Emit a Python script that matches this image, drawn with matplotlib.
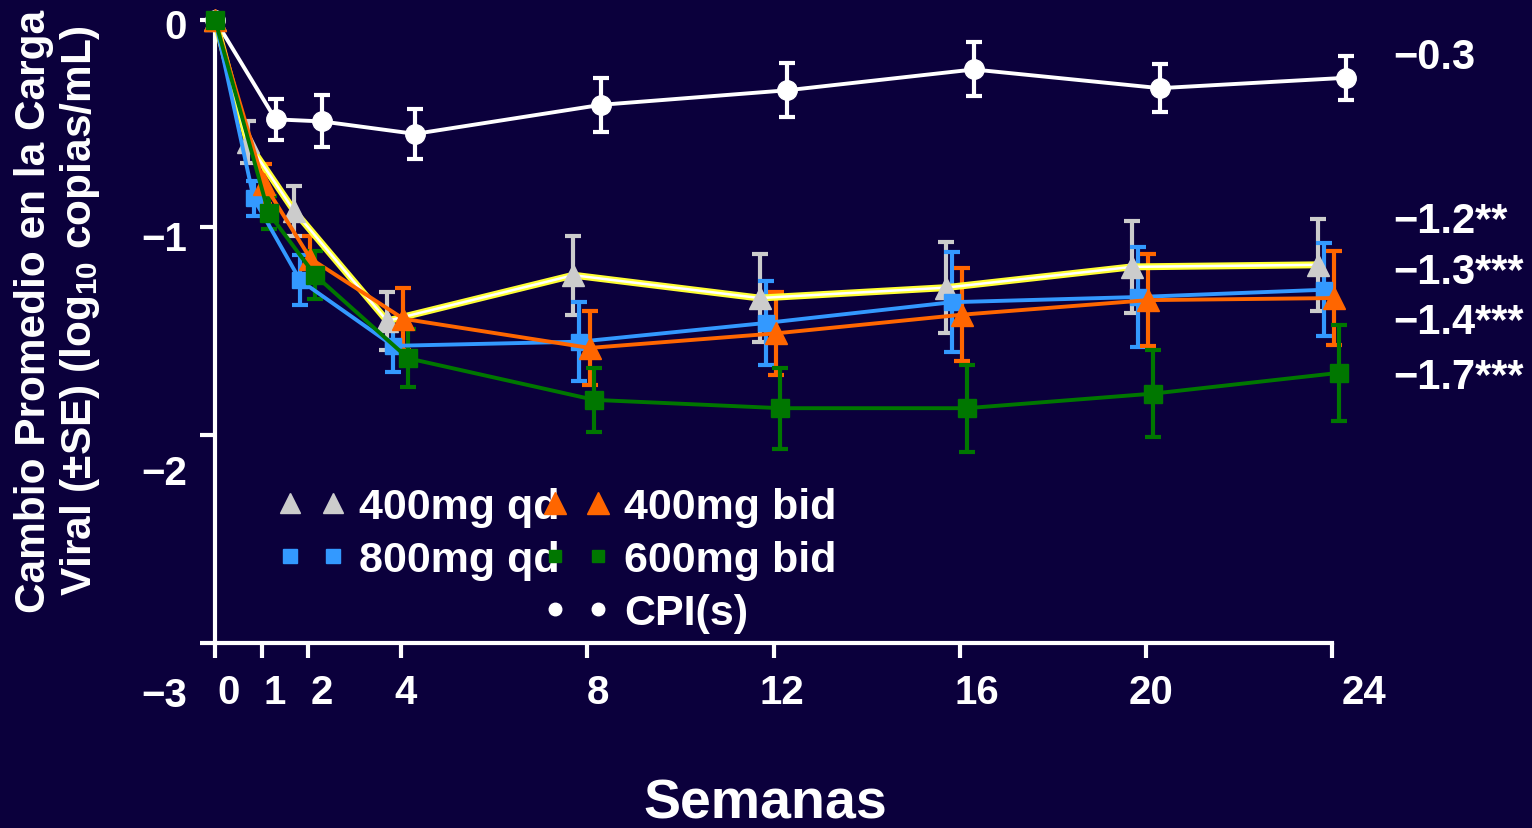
import matplotlib
matplotlib.use("Agg")
import matplotlib.pyplot as plt
from matplotlib.lines import Line2D

plt.rcParams['font.family'] = ['Liberation Sans', 'DejaVu Sans']
plt.rcParams['font.weight'] = 'bold'
plt.rcParams['mathtext.fontset'] = 'custom'
plt.rcParams['mathtext.rm'] = 'Liberation Sans:bold'
plt.rcParams['mathtext.it'] = 'Liberation Sans:bold'
plt.rcParams['mathtext.bf'] = 'Liberation Sans:bold'

# datos (semanas y cambio medio de carga viral)
weeks = [0, 1, 2, 4, 8, 12, 16, 20, 24]

qd400 = [0, -0.59, -0.92, -1.45, -1.23, -1.34, -1.29, -1.19, -1.18]
qd400_se = [0, 0.10, 0.12, 0.14, 0.19, 0.21, 0.22, 0.22, 0.22]

qd800 = [0, -0.86, -1.255, -1.57, -1.55, -1.46, -1.36, -1.335, -1.30]
qd800_se = [0, 0.085, 0.12, 0.125, 0.19, 0.20, 0.24, 0.24, 0.225]

bid400 = [0, -0.79, -1.15, -1.44, -1.58, -1.51, -1.42, -1.35, -1.34]
bid400_se = [0, 0.095, 0.11, 0.15, 0.18, 0.20, 0.225, 0.22, 0.225]

bid600 = [0, -0.93, -1.23, -1.63, -1.83, -1.87, -1.87, -1.80, -1.70]
bid600_se = [0, 0.08, 0.115, 0.14, 0.155, 0.195, 0.21, 0.21, 0.23]

cpi = [0, -0.48, -0.49, -0.55, -0.41, -0.34, -0.24, -0.33, -0.28]
cpi_se = [0, 0.10, 0.125, 0.12, 0.13, 0.13, 0.13, 0.115, 0.107]

final_labels = ['\u22120.3', '\u22121.2**', '\u22121.3***', '\u22121.4***', '\u22121.7***']
final_label_y = [-0.18, -0.968, -1.213, -1.453, -1.718]

xtick_labels = ['0', '1', '2', '4', '8', '12', '16', '20', '24']
xtick_shift = [0.29, 0.29, 0.3, 0.1, 0.22, 0.18, 0.37, 0.11, 0.69]
yticks = [0, -1, -2, -3]
ytick_labels = ['0', '\u22121', '\u22122', '\u22123']
ytick_label_y = [-0.036, -1.055, -2.18, -3.25]

bg = '#0b003c'
W, H = 1532, 829

fig = plt.figure(figsize=(W / 100, H / 100), dpi=100, facecolor=bg)
ax = fig.add_axes([215 / W, 1 - 644 / H, (1332 - 215) / W, (644 - 20.6) / H])
ax.set_facecolor(bg)


def shifted(off):
    return [w + off if w > 0 else w for w in weeks]


def serie(y, se, off, color, marker, ms, z=3):
    ax.errorbar(shifted(off), y, yerr=se, fmt='none', ecolor=color, elinewidth=3,
                capsize=5.5, capthick=3, clip_on=False, zorder=z)
    ax.plot(shifted(off), y, color=color, lw=2.8, marker=marker, ms=ms,
            mec=color, mfc=color, clip_on=False, zorder=z + 1)


# CPI(s) por debajo de los demas en la linea base
serie(cpi, cpi_se, 0.3, 'white', 'o', 14, z=2)

# 400mg qd: linea blanca con borde amarillo
ax.errorbar(shifted(-0.3), qd400, yerr=qd400_se, fmt='none', ecolor='#cccccc',
            elinewidth=3, capsize=5.5, capthick=3, clip_on=False, zorder=3)
ax.plot(shifted(-0.3), qd400, color='#ffff33', lw=5, clip_on=False, zorder=4)
ax.plot(shifted(-0.3), qd400, color='white', lw=1.8, marker='^', ms=16,
        mec='#cccccc', mfc='#cccccc', clip_on=False, zorder=4)

serie(qd800, qd800_se, -0.17, '#3399ff', 's', 12)
serie(bid400, bid400_se, 0.05, '#ff6600', '^', 16)
serie(bid600, bid600_se, 0.15, '#007700', 's', 13)

ax.set_xlim(0, 24)
ax.set_ylim(-3, 0)
for s in ['top', 'right']:
    ax.spines[s].set_visible(False)
for s in ['left', 'bottom']:
    ax.spines[s].set_color('white')
    ax.spines[s].set_linewidth(3)
ax.set_xticks(weeks)
ax.set_yticks(yticks)
ax.set_xticklabels([])
ax.set_yticklabels([])
ax.tick_params(colors='white', length=11, width=3, direction='out')

# etiquetas de ejes (desplazadas como en la diapositiva)
for lab, w, d in zip(xtick_labels, weeks, xtick_shift):
    ax.text(w + d, -3.235, lab, color='white', fontsize=29, fontweight='bold',
            ha='center', va='center', clip_on=False)
for lab, yy in zip(ytick_labels, ytick_label_y):
    ax.text(-0.6, yy, lab, color='white', fontsize=29, fontweight='bold',
            ha='right', va='center', clip_on=False)

for lab, yy in zip(final_labels, final_label_y):
    ax.text(25.31, yy, lab, color='white', fontsize=30, fontweight='bold',
            ha='left', va='center', clip_on=False)

fig.text(58 / W, 1 - 311 / H,
         'Cambio Promedio en la Carga\nViral (\u00b1SE) (log$_{10}$ copias/mL)',
         rotation=90, ha='center', va='center', color='white', fontsize=30.5,
         fontweight='bold', linespacing=1.15)
fig.text(765 / W, 1 - 805 / H, 'Semanas', ha='center', va='center',
         color='white', fontsize=40, fontweight='bold')

# leyenda
def h(color, marker, ms):
    return Line2D([], [], ls='none', marker=marker, ms=ms, color=color, mec=color)

handles = [h('#cccccc', '^', 15), h('#3399ff', 's', 10), Line2D([], [], ls='none'),
           h('#ff6600', '^', 16), h('#007700', 's', 8), h('white', 'o', 9)]
labels = ['400mg qd', '800mg qd', '', '400mg bid', '600mg bid', 'CPI(s)']
leg = fig.legend(handles, labels, ncol=2, numpoints=2, frameon=False,
                 loc='upper left', bbox_to_anchor=(277 / W, 1 - 488 / H),
                 borderpad=0, borderaxespad=0, handlelength=1.6,
                 handletextpad=0.3, columnspacing=-0.4, labelspacing=0.3,
                 prop={'size': 31, 'weight': 'bold'})
for t in leg.get_texts():
    t.set_color('white')

fig.savefig('out.png', dpi=100, facecolor=bg)
